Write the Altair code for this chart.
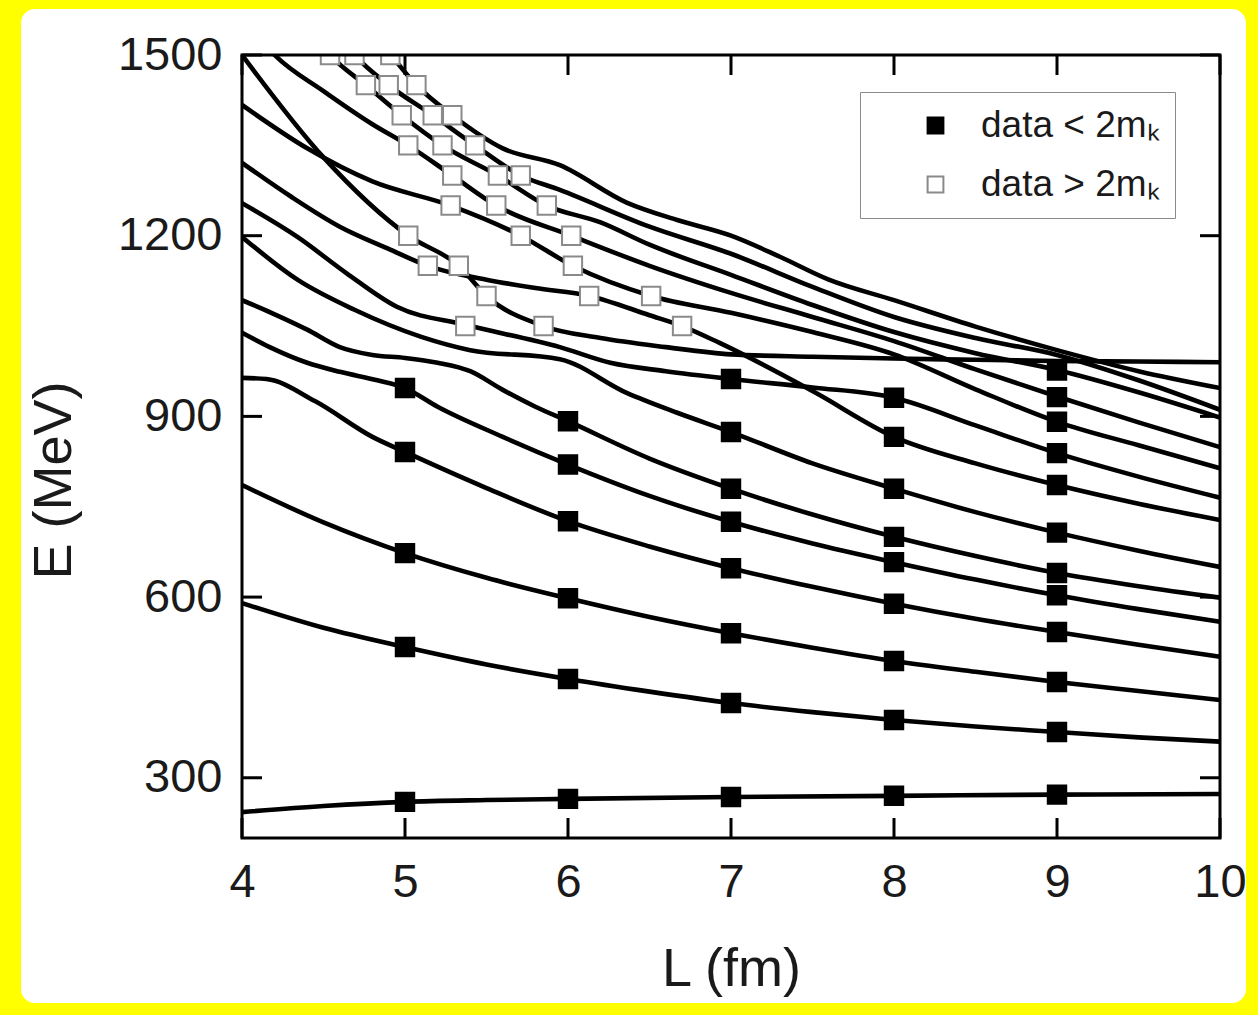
import altair as alt
import pandas as pd

# ---------------- data ----------------
# energy levels E(L) (L in fm, E in MeV)
A_L = [4, 4.5, 5, 5.5, 6, 7, 8, 9, 10]
A_E = [243, 253, 260, 263, 265, 268, 270, 272, 273]
B_L = [4, 4.5, 5, 5.5, 6, 6.5, 7, 7.5, 8, 8.5, 9, 9.5, 10]
B_E = [590, 549, 517, 488, 464, 443, 424, 409, 396, 385, 376, 367, 360]
C_L = [4, 4.5, 5, 5.5, 6, 6.5, 7, 7.5, 8, 8.5, 9, 9.5, 10]
C_E = [786, 724, 673, 632, 598, 567, 540, 516, 494, 476, 459, 444, 429]
D_L = [4, 4.15, 4.45, 4.8, 5, 5.5, 6, 6.5, 7, 7.5, 8, 8.5, 9, 9.5, 10]
D_E = [964, 962, 925, 866, 841, 781, 726, 684, 648, 617, 589, 564, 542, 521, 501]
E_L = [4, 4.17, 4.4, 4.6, 4.83, 5, 5.2, 5.6, 6, 6.5, 7, 7.5, 8, 8.5, 9, 9.5, 10]
E_E = [1039, 1015, 989, 974, 960, 947, 916, 866, 820, 768, 725, 689, 658, 629, 603, 580, 559]
F_L = [4, 4.18, 4.4, 4.6, 4.8, 5, 5.2, 5.4, 5.6, 5.8, 6, 6.5, 7, 7.5, 8, 8.5, 9, 9.5, 10]
F_E = [1093, 1072, 1044, 1015, 1002, 997, 989, 975, 944, 916, 892, 830, 780, 737, 700, 668, 640, 618, 599]
G_L = [4, 4.34, 4.69, 5.1, 5.4, 5.95, 6.36, 6.67, 7, 7.5, 8, 8.5, 9, 9.5, 10]
G_E = [1198, 1127, 1077, 1032, 1010, 995, 939, 906, 874, 822, 780, 741, 707, 677, 650]
H_L = [4, 4.34, 4.64, 4.95, 5.37, 5.95, 6.26, 6.6, 7, 7.5, 8, 8.5, 9, 9.5, 10]
H_E = [1254, 1198, 1138, 1082, 1052, 1015, 989, 975, 962, 948, 931, 885, 839, 800, 765]
P_L = [4, 4.5, 5.02, 5.33, 5.5, 5.85, 6.2, 6.6, 7, 7.5, 8, 8.5, 9, 9.5, 10]
P_E = [1500, 1330, 1200, 1150, 1100, 1050, 1030, 1015, 1003, 999, 996, 994, 992, 991, 990]
I_L = [4, 4.3, 4.6, 4.9, 5.14, 5.5, 5.8, 6.13, 6.5, 6.7, 6.93, 7.5, 8, 8.5, 9, 9.5, 10]
I_E = [1321, 1265, 1215, 1178, 1150, 1127, 1113, 1100, 1068, 1050, 1022, 942, 866, 822, 786, 755, 728]
J_L = [4, 4.4, 4.8, 5.28, 5.71, 6.03, 6.51, 7, 7.5, 8, 8.5, 9, 9.5, 10]
J_E = [1417, 1345, 1290, 1250, 1200, 1150, 1100, 1072, 1040, 1003, 945, 891, 852, 814]
K_L = [4.1, 4.2, 4.5, 4.8, 5.02, 5.29, 5.56, 6.02, 6.5, 7, 7.5, 8, 8.5, 9, 9.5, 10]
K_E = [1530, 1500, 1440, 1385, 1350, 1300, 1250, 1200, 1150, 1105, 1065, 1025, 978, 933, 890, 849]
M_L = [4.45, 4.54, 4.76, 4.98, 5.23, 5.57, 5.87, 6.2, 6.5, 7, 7.5, 8, 8.5, 9, 9.5, 10]
M_E = [1530, 1500, 1450, 1400, 1350, 1300, 1250, 1222, 1185, 1135, 1085, 1040, 1005, 977, 940, 898]
N_L = [4.6, 4.69, 4.9, 5.17, 5.43, 5.71, 5.95, 6.5, 7, 7.5, 8, 8.5, 9, 9.5, 10]
N_E = [1530, 1500, 1450, 1400, 1350, 1300, 1276, 1215, 1170, 1115, 1065, 1030, 1002, 960, 911]
O_L = [4.8, 4.91, 5.07, 5.29, 5.6, 5.95, 6.36, 6.67, 7, 7.3, 7.6, 8, 8.5, 9, 9.5, 10]
O_E = [1530, 1500, 1450, 1400, 1345, 1317, 1255, 1226, 1200, 1165, 1127, 1093, 1049, 1010, 975, 947]

curves = {
    "A": (A_L, A_E), "B": (B_L, B_E), "C": (C_L, C_E), "D": (D_L, D_E),
    "E": (E_L, E_E), "F": (F_L, F_E), "G": (G_L, G_E), "H": (H_L, H_E),
    "P": (P_L, P_E), "I": (I_L, I_E), "J": (J_L, J_E), "K": (K_L, K_E),
    "M": (M_L, M_E), "N": (N_L, N_E), "O": (O_L, O_E),
}

# data points below 2 m_K (filled squares)
below_L = [5] * 5 + [6] * 6 + [7] * 8 + [8] * 9 + [9] * 12
below_E = [947, 841, 673, 517, 260,
           892, 820, 726, 598, 464, 265,
           962, 874, 780, 725, 648, 540, 424, 268,
           931, 866, 780, 700, 658, 589, 494, 396, 270,
           976, 932, 891, 839, 786, 707, 640, 603, 542, 459, 376, 272]

# data points above 2 m_K (open squares)
above_E = [1500] * 3 + [1450] * 3 + [1400] * 3 + [1350] * 3 + [1300] * 3 + \
          [1250] * 3 + [1200] * 3 + [1150] * 3 + [1100] * 3 + [1050] * 3
above_L = [4.54, 4.69, 4.91, 4.76, 4.90, 5.07, 4.98, 5.17, 5.29, 5.02, 5.23, 5.43,
           5.29, 5.57, 5.71, 5.28, 5.56, 5.87, 5.02, 5.71, 6.02, 5.14, 5.33, 6.03,
           5.50, 6.13, 6.51, 5.37, 5.85, 6.70]

x_ticks = [4, 5, 6, 7, 8, 9, 10]
y_ticks = [300, 600, 900, 1200, 1500]

LBL_LT = "data < 2m\u2096"
LBL_GT = "data > 2m\u2096"

# ---------------- tables ----------------
rows = []
for name, (Ls, Es) in curves.items():
    for l, e in zip(Ls, Es):
        rows.append({"curve": name, "L": l, "E": e})
lines_df = pd.DataFrame(rows)

pts_df = pd.DataFrame(
    [{"L": l, "E": e, "kind": LBL_LT} for l, e in zip(below_L, below_E)]
    + [{"L": l, "E": e, "kind": LBL_GT} for l, e in zip(above_L, above_E)]
)
xt_df = pd.DataFrame({"L": x_ticks})
yt_df = pd.DataFrame({"E": y_ticks})

W, H = 978, 783
FONT = "Liberation Sans"

xscale = alt.Scale(domain=[4, 10], nice=False, zero=False)
yscale = alt.Scale(domain=[200, 1500], nice=False, zero=False)

xaxis = alt.Axis(values=x_ticks, format="d", title="L (fm)", ticks=False, domain=False,
                 grid=False, labelFlush=False, labelPadding=21, labelFontSize=47,
                 labelFont=FONT, labelColor="#1a1a1a", titleFont=FONT, titleFontSize=54,
                 titleFontWeight="normal", titleColor="#1a1a1a", titleX=489, titleY=147,
                 titleBaseline="alphabetic", titleAlign="center", zindex=2)
yaxis = alt.Axis(values=y_ticks, format="d", title="E (MeV)", ticks=False, domain=False,
                 grid=False, labelFlush=False, labelPadding=20, labelFontSize=47,
                 labelFont=FONT, labelColor="#1a1a1a", titleFont=FONT, titleFontSize=54,
                 titleFontWeight="normal", titleColor="#1a1a1a", titleX=-172, titleY=425,
                 titleBaseline="alphabetic", titleAlign="center", titleAngle=270, zindex=2)

one = pd.DataFrame({"a": [0]})
frame = alt.Chart(one).mark_rect(fill="white", cornerRadius=14).encode(
    x=alt.value(-221), x2=alt.value(1004), y=alt.value(-46), y2=alt.value(948)
)
border = alt.Chart(one).mark_rect(fill=None, filled=False, stroke="black", strokeWidth=3).encode(
    x=alt.value(0), x2=alt.value(W), y=alt.value(0), y2=alt.value(H)
)

lines = alt.Chart(lines_df).mark_line(
    interpolate="monotone", color="black", strokeWidth=4.6, clip=True
).encode(
    x=alt.X("L:Q", scale=xscale, axis=xaxis),
    y=alt.Y("E:Q", scale=yscale, axis=yaxis),
    detail="curve:N",
)

leg = alt.Legend(title=None, orient="none", legendX=618, legendY=37, padding=15,
                 strokeColor="#8a8a8a", fillColor="white", labelFont=FONT,
                 labelFontSize=37, labelColor="#1a1a1a", symbolOffset=42, labelOffset=27,
                 rowPadding=21, symbolSize=250, symbolType="square", symbolStrokeWidth=2,
                 labelLimit=500)

points = alt.Chart(pts_df).mark_point(
    shape="square", filled=True, size=340, strokeWidth=2, opacity=1, clip=True
).encode(
    x=alt.X("L:Q", scale=xscale, axis=xaxis),
    y=alt.Y("E:Q", scale=yscale, axis=yaxis),
    fill=alt.Fill("kind:N", scale=alt.Scale(domain=[LBL_LT, LBL_GT], range=["black", "white"]), legend=leg),
    stroke=alt.Stroke("kind:N", scale=alt.Scale(domain=[LBL_LT, LBL_GT], range=["black", "#8a8a8a"]), legend=leg),
)

tick_style = dict(color="black", strokeWidth=3)
xt_bottom = alt.Chart(xt_df).mark_rule(**tick_style).encode(
    x=alt.X("L:Q", scale=xscale, axis=xaxis), y=alt.value(H), y2=alt.value(H - 20))
xt_top = alt.Chart(xt_df).mark_rule(**tick_style).encode(
    x=alt.X("L:Q", scale=xscale, axis=xaxis), y=alt.value(0), y2=alt.value(20))
yt_left = alt.Chart(yt_df).mark_rule(**tick_style).encode(
    y=alt.Y("E:Q", scale=yscale, axis=yaxis), x=alt.value(0), x2=alt.value(20))
yt_right = alt.Chart(yt_df).mark_rule(**tick_style).encode(
    y=alt.Y("E:Q", scale=yscale, axis=yaxis), x=alt.value(W), x2=alt.value(W - 20))

chart = alt.layer(frame, lines, points, xt_bottom, xt_top, yt_left, yt_right, border).properties(
    width=W, height=H,
    autosize=alt.AutoSizeParams(type="none"),
    padding={"left": 242, "top": 55, "right": 38, "bottom": 177},
).configure(background="#ffff00").configure_view(stroke="black", strokeWidth=3)

chart.save("out.html", embed_options={"renderer": "svg", "actions": False})
